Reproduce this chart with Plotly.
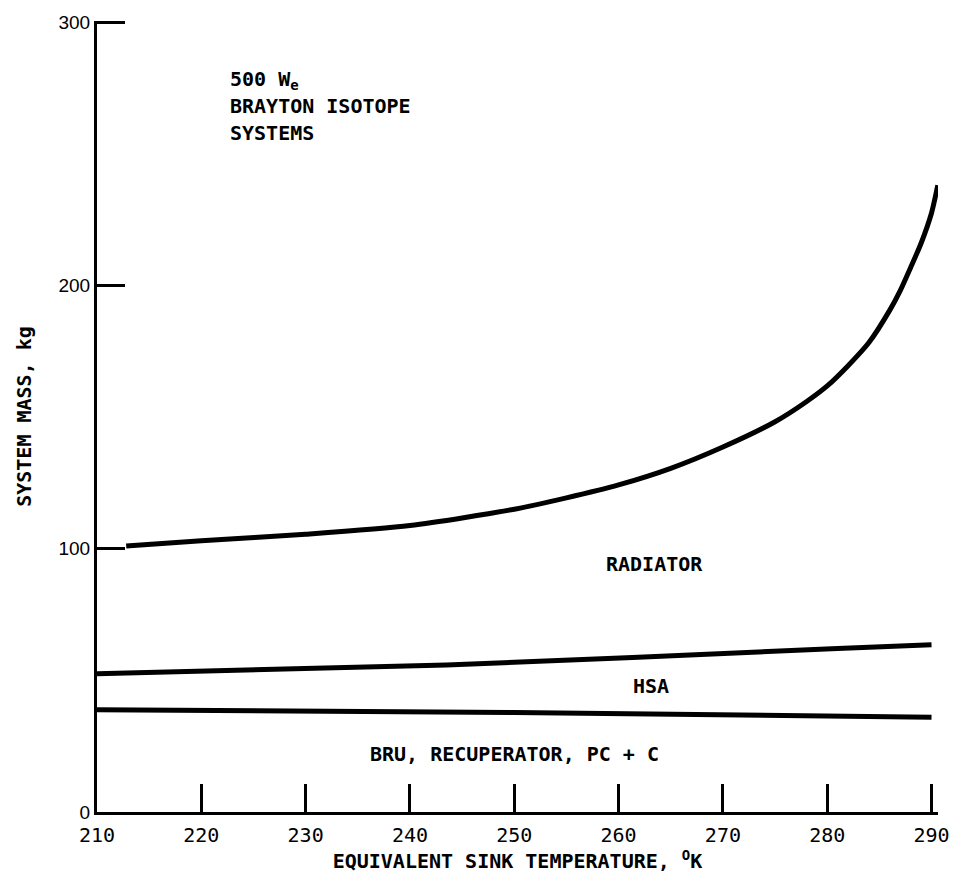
import plotly.graph_objects as go

# Data
radiator_x = [212.8, 220, 230, 240, 250, 255, 260, 265, 270, 275, 278, 280, 282, 284, 286, 287, 288, 289, 290, 290.6]
radiator_y = [101.0, 103.0, 105.5, 108.8, 115.0, 119.3, 124.2, 130.5, 138.6, 148.2, 155.8, 161.8, 169.5, 178.3, 190.6, 198.0, 206.8, 216.0, 227.5, 238.0]

hsa_x = [210, 243.5, 281, 290]
hsa_y = [52.5, 55.8, 62.1, 63.5]

bru_x = [210, 250, 290]
bru_y = [38.8, 37.8, 36.0]

x_ticks = [210, 220, 230, 240, 250, 260, 270, 280, 290]
y_ticks = [0, 100, 200, 300]

MONO = "DejaVu Sans Mono"
LINE = dict(color="black", width=5)

fig = go.Figure()
for xs, ys, name in [(radiator_x, radiator_y, "Radiator"),
                     (hsa_x, hsa_y, "HSA"),
                     (bru_x, bru_y, "BRU")]:
    fig.add_trace(go.Scatter(x=xs, y=ys, mode="lines", name=name,
                             line=dict(LINE, shape="spline", smoothing=0.7),
                             showlegend=False, hoverinfo="skip"))

fig.update_layout(
    width=962, height=875,
    margin=dict(l=97, r=15, t=19, b=63),
    paper_bgcolor="white", plot_bgcolor="white",
    xaxis=dict(range=[210, 290.62], tickvals=x_ticks, ticktext=[str(v) for v in x_ticks],
               ticks="inside", ticklen=28, tickwidth=3, tickcolor="black",
               showline=True, linewidth=3, linecolor="black",
               showgrid=False, zeroline=False, ticklabelstandoff=3,
               tickfont=dict(family=MONO, size=20, color="black"),
               title=dict(text="<b>EQUIVALENT SINK TEMPERATURE, <sup>O</sup>K</b>",
                          font=dict(family=MONO, size=20, color="black"), standoff=2)),
    yaxis=dict(range=[0, 300.4], tickvals=y_ticks, ticktext=[str(v) for v in y_ticks],
               ticks="inside", ticklen=28, tickwidth=3, tickcolor="black",
               showline=True, linewidth=3, linecolor="black",
               showgrid=False, zeroline=False,
               tickfont=dict(family="Liberation Sans", size=19, color="black"),
               title=dict(text="<b>SYSTEM MASS, kg</b>",
                          font=dict(family=MONO, size=20, color="black"), standoff=22)),
)

ann_font = dict(family=MONO, size=20, color="black")
annotations = [
    dict(x=222.6, y=278, text="<b>500 W<sub>e</sub></b>", xanchor="left"),
    dict(x=222.6, y=268.2, text="<b>BRAYTON ISOTOPE</b>", xanchor="left"),
    dict(x=222.6, y=258.0, text="<b>SYSTEMS</b>", xanchor="left"),
    dict(x=263.4, y=94, text="<b>RADIATOR</b>", xanchor="center"),
    dict(x=263.1, y=47.7, text="<b>HSA</b>", xanchor="center"),
    dict(x=250.0, y=22.0, text="<b>BRU, RECUPERATOR, PC + C</b>", xanchor="center"),
]
for a in annotations:
    fig.add_annotation(xref="x", yref="y", showarrow=False, yanchor="middle",
                       font=ann_font, **a)

fig.write_html("out.html")
